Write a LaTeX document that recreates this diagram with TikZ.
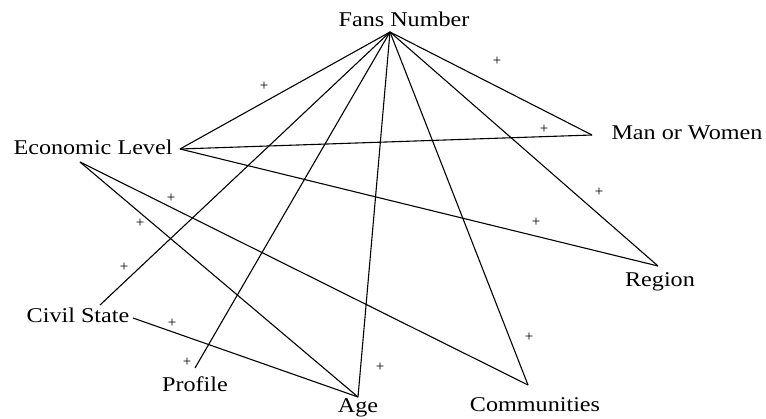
\documentclass[tikz,border=0pt]{standalone}
\usepackage{fontspec}
\setmainfont{Liberation Serif}
\begin{document}
\begin{tikzpicture}[x=1pt,y=-1pt,
  lbl/.style={anchor=base,inner sep=0pt,font=\fontsize{21}{21}\selectfont},
  pl/.style={inner sep=0pt,font=\fontsize{15}{15}\selectfont},
  edge/.style={draw=black,line width=1.1pt}]
\useasboundingbox (0,0) rectangle (766,419);
% labels
\node[lbl] (fans) at (404,27) {\scalebox{1.15}[1]{Fans Number}};
\node[lbl] (econ) at (93,155) {\scalebox{1.15}[1]{Economic Level}};
\node[lbl] (man) at (687,140) {\scalebox{1.15}[1]{Man or Women}};
\node[lbl] (region) at (660,287) {\scalebox{1.15}[1]{Region}};
\node[lbl] (civil) at (78,323) {\scalebox{1.15}[1]{Civil State}};
\node[lbl] (profile) at (195,392) {\scalebox{1.15}[1]{Profile}};
\node[lbl] (age) at (358,413) {\scalebox{1.15}[1]{Age}};
\node[lbl] (comm) at (535,412) {\scalebox{1.15}[1]{Communities}};
% connector ends
\coordinate (apex) at (390,32);
\coordinate (econR) at (180,149);
\coordinate (econB) at (80,162);
\coordinate (manV) at (592,135);
\coordinate (regV) at (658,266);
\coordinate (civT) at (100,305);
\coordinate (civR) at (133,318);
\coordinate (proV) at (195,368);
\coordinate (ageV) at (358,397);
\coordinate (comV) at (528,385);
% connectors
\draw[edge] (apex) -- (econR);
\draw[edge] (apex) -- (manV);
\draw[edge] (apex) -- (regV);
\draw[edge] (apex) -- (civT);
\draw[edge] (apex) -- (proV);
\draw[edge] (apex) -- (ageV);
\draw[edge] (apex) -- (comV);
\draw[edge] (econR) -- (manV);
\draw[edge] (econR) -- (regV);
\draw[edge] (econB) -- (ageV);
\draw[edge] (econB) -- (comV);
\draw[edge] (civR) -- (ageV);
% plus signs
\node[pl] (p1) at (264,86) {+};
\node[pl] (p2) at (497,61) {+};
\node[pl] (p3) at (544,129) {+};
\node[pl] (p4) at (599,192) {+};
\node[pl] (p5) at (171,198) {+};
\node[pl] (p6) at (140,223) {+};
\node[pl] (p7) at (124,267) {+};
\node[pl] (p8) at (536,222) {+};
\node[pl] (p9) at (172,323) {+};
\node[pl] (p10) at (187,362) {+};
\node[pl] (p11) at (380,367) {+};
\node[pl] (p12) at (529,337) {+};
\end{tikzpicture}
\end{document}
